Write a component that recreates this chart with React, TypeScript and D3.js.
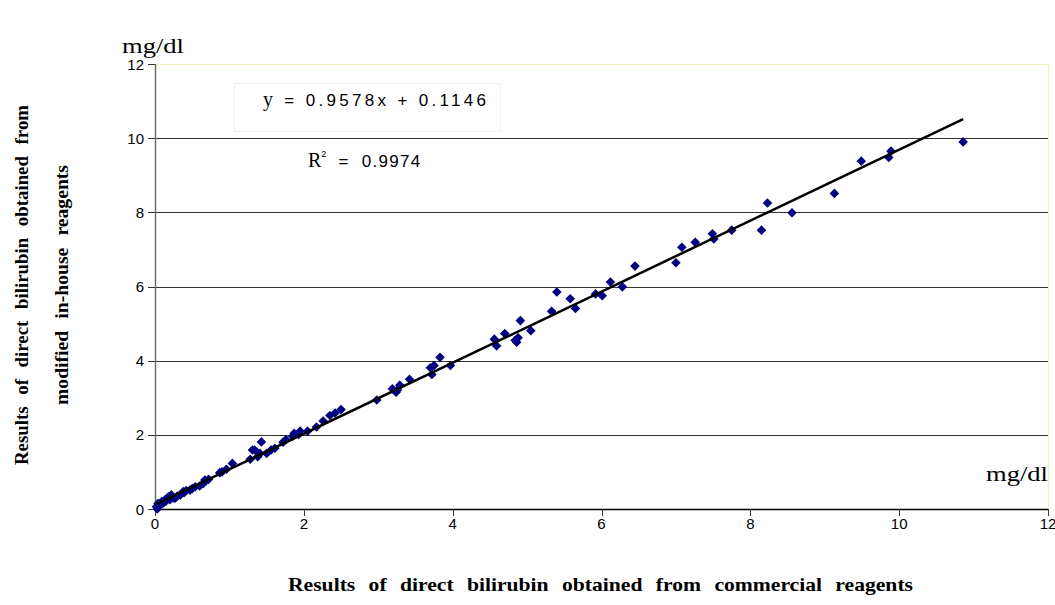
import React from "react";
import * as d3 from "d3";

const commercial: number[] = [
  0.02, 0.03, 0.04, 0.05, 0.07, 0.09, 0.10, 0.12, 0.13, 0.15, 0.18, 0.20, 0.22, 0.25, 0.27, 0.30,
  0.34, 0.38, 0.39, 0.42, 0.47, 0.50, 0.54, 0.60, 0.65, 0.67, 0.72, 0.87, 0.90, 0.96, 1.04,
  1.28, 1.31, 1.34, 1.38, 1.41, 1.43, 1.50, 1.56, 1.61, 1.72, 1.76, 1.85, 1.87, 1.93, 1.95,
  2.05, 2.17, 2.26, 2.35, 2.42, 2.50, 2.98, 3.19, 3.24, 3.26, 3.29, 3.42, 3.70, 3.72, 3.75,
  3.83, 3.97, 4.56, 4.59, 4.70, 4.84, 4.86, 4.88, 4.91, 5.05, 5.33, 5.40, 5.58, 5.65, 5.92,
  6.01, 6.12, 6.28, 6.45, 7.00, 7.08, 7.26, 7.49, 7.51, 7.75, 8.15, 8.23, 8.56, 9.13, 9.49,
  9.86, 9.89, 10.86,
];
const inHouse: number[] = [
  0.06, 0.00, 0.15, 0.10, 0.12, 0.20, 0.14, 0.18, 0.24, 0.22, 0.33, 0.25, 0.38, 0.30, 0.29, 0.35,
  0.38, 0.47, 0.44, 0.50, 0.51, 0.55, 0.60, 0.62, 0.69, 0.78, 0.80, 0.98, 1.00, 1.07, 1.23,
  1.34, 1.59, 1.59, 1.41, 1.50, 1.81, 1.50, 1.59, 1.64, 1.80, 1.87, 1.96, 2.04, 2.01, 2.10,
  2.10, 2.21, 2.37, 2.52, 2.59, 2.68, 2.94, 3.24, 3.15, 3.21, 3.34, 3.50, 3.81, 3.63, 3.87,
  4.09, 3.87, 4.58, 4.40, 4.73, 4.55, 4.50, 4.62, 5.08, 4.81, 5.33, 5.85, 5.67, 5.41, 5.80,
  5.75, 6.12, 5.99, 6.55, 6.64, 7.06, 7.19, 7.42, 7.28, 7.52, 7.52, 8.25, 7.99, 8.51, 9.38,
  9.48, 9.65, 9.90,
];
const xTicks: number[] = [0, 2, 4, 6, 8, 10, 12];
const yTicks: number[] = [0, 2, 4, 6, 8, 10, 12];
const slope = 0.9578;
const intercept = 0.1146;

export default function App() {
  const left = 155, right = 1048, top = 64, bottom = 509;
  const x = d3.scaleLinear().domain([0, 12]).range([left, right]);
  const y = d3.scaleLinear().domain([0, 12]).range([bottom, top]);
  const xMin = d3.min(commercial) as number;
  const xMax = d3.max(commercial) as number;
  const trend = d3.line<number>().x((d) => x(d)).y((d) => y(slope * d + intercept))([xMin, xMax]) as string;
  const serif = "'Liberation Serif', 'Times New Roman', serif";
  const sans = "'Liberation Sans', Arial, sans-serif";
  const r = 4.8;
  const diamond = (cx: number, cy: number) => `M${cx},${cy - r}L${cx + r},${cy}L${cx},${cy + r}L${cx - r},${cy}Z`;
  return (
    <svg width={1055} height={605} style={{ position: "absolute", left: 0, top: 0, background: "#fff" }}>
      {/* plot frame */}
      <line x1={left} x2={right} y1={top + 0.5} y2={top + 0.5} stroke="#f3efc0" />
      <line x1={right + 0.5} x2={right + 0.5} y1={top} y2={bottom} stroke="#f3efc0" />
      {yTicks.filter((t) => t > 0 && t < 12).map((t) => (
        <line key={"g" + t} x1={left} x2={right} y1={Math.round(y(t)) + 0.5} y2={Math.round(y(t)) + 0.5} stroke="#333" strokeWidth={1} />
      ))}
      {/* y axis */}
      <line x1={left + 0.5} x2={left + 0.5} y1={top} y2={bottom} stroke="#6f6d5c" strokeWidth={1.5} />
      {yTicks.map((t) => (
        <g key={"yt" + t}>
          <line x1={left - 7} x2={left} y1={Math.round(y(t)) + 0.5} y2={Math.round(y(t)) + 0.5} stroke="#333" />
          <text x={left - 11} y={y(t) + 5.5} textAnchor="end" fontFamily={sans} fontSize={15} fill="#000">{t}</text>
        </g>
      ))}
      {/* x axis */}
      <line x1={left} x2={right} y1={bottom + 0.5} y2={bottom + 0.5} stroke="#000" strokeWidth={1.5} />
      {xTicks.map((t) => (
        <g key={"xt" + t}>
          <line x1={Math.round(x(t)) + 0.5} x2={Math.round(x(t)) + 0.5} y1={bottom} y2={bottom + 7} stroke="#333" />
          <text x={x(t)} y={bottom + 20} textAnchor="middle" fontFamily={sans} fontSize={15} fill="#000">{t}</text>
        </g>
      ))}
      {/* points */}
      {commercial.map((c, i) => (
        <path key={"p" + i} d={diamond(x(c), y(inHouse[i]))} fill="#000080" />
      ))}
      {/* trend line */}
      <path d={trend} stroke="#000" strokeWidth={2.5} fill="none" />
      {/* equation box */}
      <rect x={234.5} y={83.5} width={266} height={48} fill="#fff" stroke="#f0f0f0" />
      <text x={263} y={106} fontSize={17} fill="#000" textLength={223} lengthAdjust="spacing" style={{ whiteSpace: "pre" }}>
        <tspan fontFamily={serif} fontSize={20}>y</tspan>
        <tspan fontFamily={sans}>{" = 0.9578x + 0.1146"}</tspan>
      </text>
      <text x={308} y={167} fontSize={17} fill="#000" style={{ whiteSpace: "pre" }}>
        <tspan fontFamily={serif} fontSize={20}>R</tspan>
        <tspan fontFamily={sans} fontSize={9} dy={-10}>2</tspan>
        <tspan fontFamily={sans} dy={10} letterSpacing={1.3}>{"  =  0.9974"}</tspan>
      </text>
      {/* units */}
      <text x={122} y={53} fontFamily={serif} fontSize={20} fill="#000" textLength={62} lengthAdjust="spacingAndGlyphs">mg/dl</text>
      <text x={986} y={481} fontFamily={serif} fontSize={20} fill="#000" textLength={62} lengthAdjust="spacingAndGlyphs">mg/dl</text>
      {/* axis titles */}
      <text x={288} y={591} fontFamily={serif} fontWeight="bold" fontSize={19} wordSpacing={7} fill="#000" textLength={625} lengthAdjust="spacingAndGlyphs">
        Results of direct bilirubin obtained from commercial reagents
      </text>
      <text transform="translate(28,465) rotate(-90)" fontFamily={serif} fontWeight="bold" fontSize={19} wordSpacing={7} fill="#000" textLength={360} lengthAdjust="spacingAndGlyphs">
        Results of direct bilirubin obtained from
      </text>
      <text transform="translate(68,405) rotate(-90)" fontFamily={serif} fontWeight="bold" fontSize={19} wordSpacing={7} fill="#000" textLength={240} lengthAdjust="spacingAndGlyphs">
        modified in-house reagents
      </text>
    </svg>
  );
}
